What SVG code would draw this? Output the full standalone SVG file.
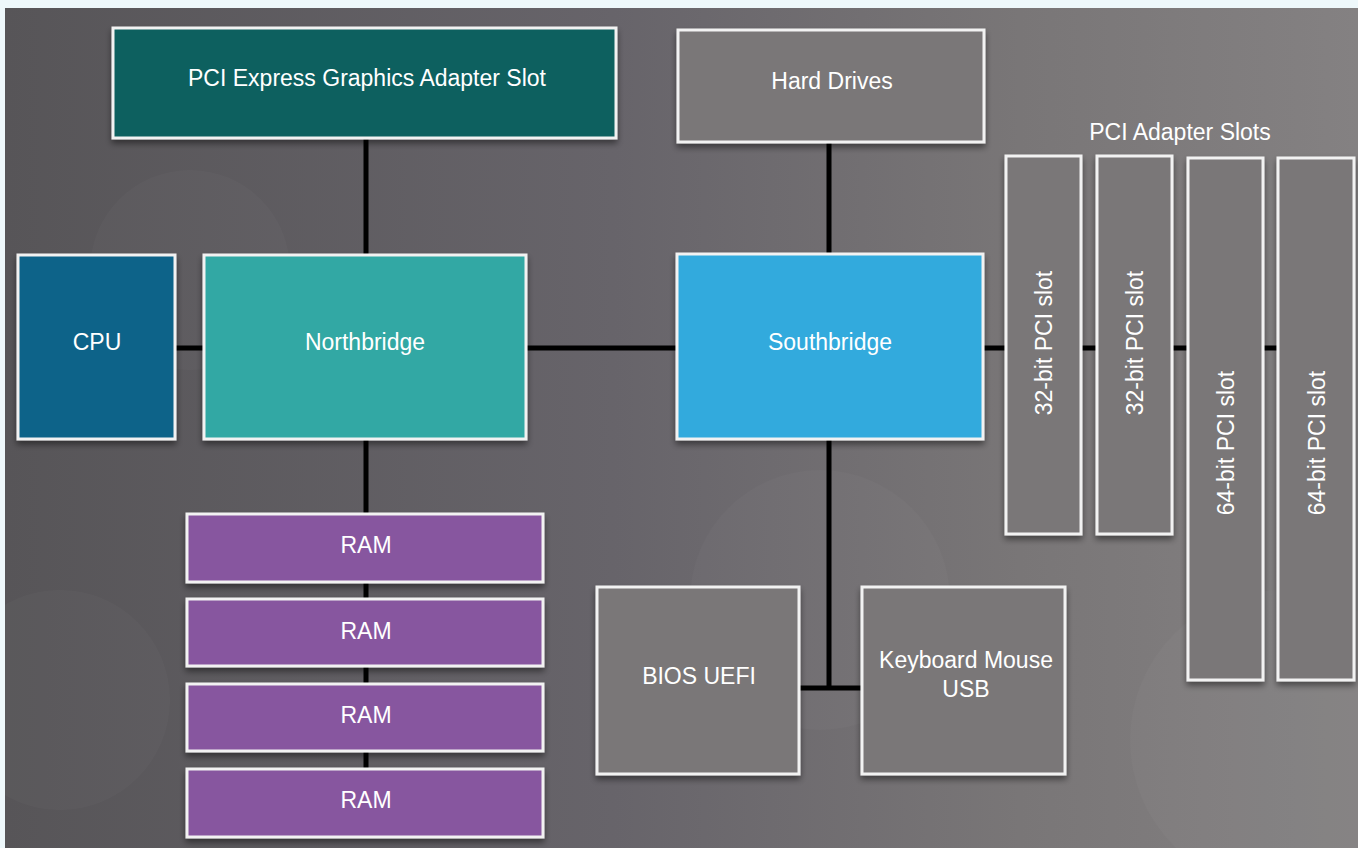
<svg xmlns="http://www.w3.org/2000/svg" width="1358" height="848" viewBox="0 0 1358 848">
<defs>
<linearGradient id="bg" x1="0" y1="0" x2="1" y2="0">
<stop offset="0" stop-color="#575558"/>
<stop offset="0.45" stop-color="#67646a"/>
<stop offset="0.75" stop-color="#797677"/>
<stop offset="1" stop-color="#848182"/>
</linearGradient>
<filter id="sh" x="-10%" y="-10%" width="120%" height="130%">
<feDropShadow dx="0" dy="4" stdDeviation="3" flood-color="#000" flood-opacity="0.45"/>
</filter>
<style>
.box{stroke:#f2f2f2;stroke-width:3;filter:url(#sh)}
.gray{fill:#7a7778}
.t{font-family:"Liberation Sans",Arial,sans-serif;font-size:23px;fill:#ffffff;text-anchor:middle}
.c{stroke:#000;stroke-width:5;fill:none}
</style>
</defs>
<rect x="0" y="0" width="1358" height="848" fill="#eef8fb"/>
<rect x="5" y="8" width="1353" height="840" fill="url(#bg)"/>
<g opacity="0.025" fill="#ffffff">
<circle cx="190" cy="270" r="100"/>
<circle cx="820" cy="600" r="130"/>
<circle cx="1280" cy="740" r="150"/>
<circle cx="60" cy="700" r="110"/>
</g>
<g id="connectors">
<line class="c" x1="366" y1="139" x2="366" y2="254"/>
<line class="c" x1="176" y1="348" x2="203" y2="348"/>
<line class="c" x1="527" y1="348" x2="676" y2="348"/>
<line class="c" x1="829" y1="143" x2="829" y2="253"/>
<line class="c" x1="366" y1="440" x2="366" y2="838"/>
<polyline class="c" points="829,440 829,688"/>
<line class="c" x1="800" y1="688" x2="861" y2="688"/>
<line class="c" x1="984" y1="348" x2="1277" y2="348"/>
</g>
<g id="pcie"><rect class="box" x="113" y="28" width="503" height="110" fill="#0f615f"/><text class="t" x="367" y="86">PCI Express Graphics Adapter Slot</text></g>
<g id="harddrives"><rect class="box gray" x="678" y="30" width="306" height="112"/><text class="t" x="832" y="89">Hard Drives</text></g>
<g id="cpu"><rect class="box" x="18" y="255" width="157" height="184" fill="#0e6389"/><text class="t" x="97" y="350">CPU</text></g>
<g id="northbridge"><rect class="box" x="204" y="255" width="322" height="184" fill="#33a8a4"/><text class="t" x="365" y="350">Northbridge</text></g>
<g id="southbridge"><rect class="box" x="677" y="254" width="306" height="185" fill="#33aadd"/><text class="t" x="830" y="350">Southbridge</text></g>
<text class="t" x="1180" y="140">PCI Adapter Slots</text>
<g id="slot1"><rect class="box gray" x="1006" y="156" width="75" height="378"/><text class="t" transform="translate(1052,343) rotate(-90)">32-bit PCI slot</text></g>
<g id="slot2"><rect class="box gray" x="1097" y="156" width="75" height="378"/><text class="t" transform="translate(1143,343) rotate(-90)">32-bit PCI slot</text></g>
<g id="slot3"><rect class="box gray" x="1188" y="158" width="75" height="522"/><text class="t" transform="translate(1234,443) rotate(-90)">64-bit PCI slot</text></g>
<g id="slot4"><rect class="box gray" x="1278" y="158" width="76" height="522"/><text class="t" transform="translate(1325,443) rotate(-90)">64-bit PCI slot</text></g>
<g id="ram1"><rect class="box" x="187" y="514" width="356" height="68" fill="#87579f"/><text class="t" x="366" y="553">RAM</text></g>
<g id="ram2"><rect class="box" x="187" y="599" width="356" height="67" fill="#87579f"/><text class="t" x="366" y="639">RAM</text></g>
<g id="ram3"><rect class="box" x="187" y="684" width="356" height="67" fill="#87579f"/><text class="t" x="366" y="723">RAM</text></g>
<g id="ram4"><rect class="box" x="187" y="769" width="356" height="68" fill="#87579f"/><text class="t" x="366" y="808">RAM</text></g>
<g id="bios"><rect class="box gray" x="597" y="587" width="202" height="187"/><text class="t" x="699" y="684">BIOS UEFI</text></g>
<g id="keyboard"><rect class="box gray" x="862" y="587" width="203" height="187"/><text class="t" x="966" y="668">Keyboard Mouse</text><text class="t" x="966" y="697">USB</text></g>
</svg>
